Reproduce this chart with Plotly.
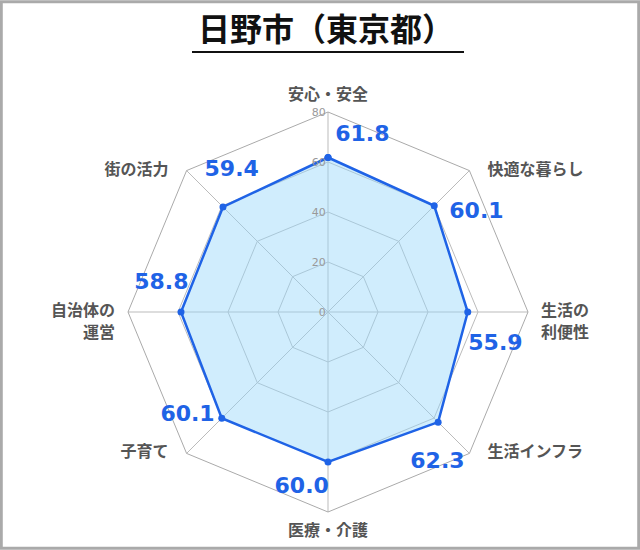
import math
import plotly.graph_objects as go

title_text = "日野市（東京都）"
categories = ["安心・安全", "快適な暮らし", "生活の<br>利便性", "生活インフラ",
              "医療・介護", "子育て", "自治体の<br>運営", "街の活力"]
values = [61.8, 60.1, 55.9, 62.3, 60.0, 60.1, 58.8, 59.4]
radial_ticks = [0, 20, 40, 60, 80]

RMAX = 80
RLAB = 88  # radial range of the label layer (same scale, wider extent)
angles = [i * 360 / len(categories) for i in range(len(categories))]

LINE = "#1f63e6"
FILL = "rgba(150,215,250,0.45)"
JP = "Noto Sans CJK JP"
CX, CY, RPX = 328, 312, 200  # polar centre / radius in pixels
W, H = 640, 550
DOMAIN = dict(x=[(CX - RPX) / W, (CX + RPX) / W],
              y=[1 - (CY + RPX) / H, 1 - (CY - RPX) / H])
RPX2 = RPX * RLAB / RMAX
DOMAIN2 = dict(x=[(CX - RPX2) / W, (CX + RPX2) / W],
               y=[1 - (CY + RPX2) / H, 1 - (CY - RPX2) / H])
U = RMAX / RPX  # data units per pixel
LINE_GAP = 22   # px between wrapped label lines


def to_polar(x, y):
    return math.hypot(x, y), math.degrees(math.atan2(x, y)) % 360


# value label positions: offset from the data point, rotated clockwise
val_r, val_t = [], []
for v, a in zip(values, angles):
    ar = math.radians(a)
    dr = math.radians(a + 52)
    x = v * math.sin(ar) + 38.5 * U * math.sin(dr) + 4 * U
    y = v * math.cos(ar) + 38.5 * U * math.cos(dr) - 2 * U
    r, t = to_polar(x, y)
    val_r.append(r)
    val_t.append(t)

# category label positions next to the outer polygon vertices (one text per line)
cat_r, cat_t, cat_pos, cat_txt = [], [], [], []
for c, a in zip(categories, angles):
    ar = math.radians(a)
    x0, y0 = RMAX * math.sin(ar), RMAX * math.cos(ar)
    gap = 13 if a % 180 == 90 else 18
    for j, line in enumerate(c.split("<br>")):
        x, y = x0, y0 - j * LINE_GAP * U
        if a == 0:
            y += 8 * U
            pos = "top center"
        elif a == 180:
            y -= 12 * U
            pos = "bottom center"
        elif a < 180:
            x += gap * U
            pos = "middle right"
        else:
            x -= gap * U
            pos = "middle left"
        r, t = to_polar(x, y)
        cat_r.append(r)
        cat_t.append(t)
        cat_pos.append(pos)
        cat_txt.append(line)

fig = go.Figure()
fig.add_trace(go.Scatterpolar(
    r=values + [values[0]], theta=categories + [categories[0]],
    mode="lines+markers", fill="toself", fillcolor=FILL,
    line=dict(color=LINE, width=2.5), marker=dict(color=LINE, size=7),
    hoverinfo="skip", showlegend=False, subplot="polar",
))
fig.add_trace(go.Scatterpolar(
    r=val_r, theta=val_t,
    mode="text", text=[f"{v:.1f}" for v in values], cliponaxis=False,
    textfont=dict(family="DejaVu Sans", size=22, color=LINE, weight="bold"),
    hoverinfo="skip", showlegend=False, subplot="polar2",
))
fig.add_trace(go.Scatterpolar(
    r=cat_r, theta=cat_t, textposition=cat_pos,
    mode="text", text=cat_txt, cliponaxis=False,
    textfont=dict(family=JP, size=16, color="#555555", weight="bold"),
    hoverinfo="skip", showlegend=False, subplot="polar2",
))

fig.update_layout(
    width=W, height=H,
    margin=dict(l=0, r=0, t=0, b=0),
    paper_bgcolor="white", plot_bgcolor="white",
    polar=dict(
        domain=DOMAIN,
        bgcolor="white",
        gridshape="linear",
        radialaxis=dict(
            range=[0, RMAX], tickvals=radial_ticks, angle=90, tickangle=90,
            side="counterclockwise",
            showline=False, gridcolor="#bbbbbb", gridwidth=1,
            tickfont=dict(family="DejaVu Sans", size=11, color="#999999"),
            ticks="",
        ),
        angularaxis=dict(
            type="category",
            direction="clockwise", rotation=90,
            linecolor="#aaaaaa", linewidth=1, gridcolor="#bbbbbb",
            showticklabels=False, ticks="",
        ),
    ),
    polar2=dict(
        domain=DOMAIN2,
        bgcolor="rgba(0,0,0,0)",
        radialaxis=dict(range=[0, RLAB], visible=False),
        angularaxis=dict(direction="clockwise", rotation=90, visible=False),
    ),
    annotations=[dict(
        text=f"<b>{title_text}</b>", x=326/640, y=1 - 27/550, xref="paper", yref="paper",
        showarrow=False, font=dict(family=JP, size=32, color="#111111"),
        yanchor="middle",
    )],
    shapes=[
        dict(type="rect", xref="paper", yref="paper", x0=0.002, x1=0.998,
             y0=0.003, y1=0.997, line=dict(color="#aaaaaa", width=3)),
        dict(type="line", xref="paper", yref="paper", x0=192/640, x1=464/640,
             y0=1 - 52/550, y1=1 - 52/550, line=dict(color="#111111", width=2)),
    ],
)

fig.write_html("out.html", config={"displayModeBar": False},
               post_script="document.body.style.margin='0';")
